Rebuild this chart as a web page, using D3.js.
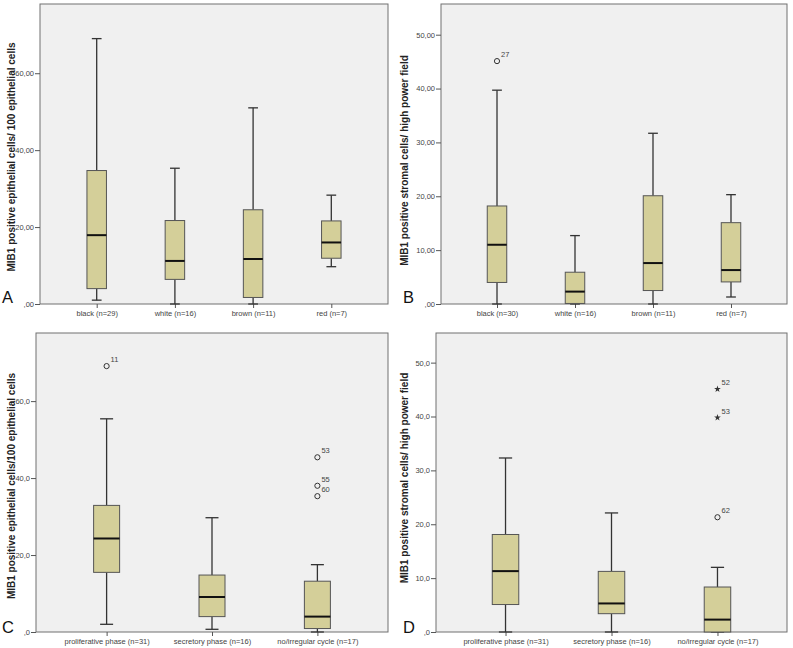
<!DOCTYPE html>
<html>
<head>
<meta charset="utf-8">
<script src="https://cdn.jsdelivr.net/npm/d3@7"></script>
<style>
  html, body { margin: 0; padding: 0; background: #ffffff; }
  svg { display: block; }
</style>
</head>
<body>
<svg id="chart" width="793" height="648"></svg>
<script>
// ---------- DATA ----------
const categoriesA = ["black (n=29)", "white (n=16)", "brown (n=11)", "red (n=7)"];
const categoriesB = ["black (n=30)", "white (n=16)", "brown (n=11)", "red (n=7)"];
const categoriesC = ["proliferative phase (n=31)", "secretory phase (n=16)", "no/irregular cycle (n=17)"];
const categoriesD = ["proliferative phase (n=31)", "secretory phase (n=16)", "no/irregular cycle (n=17)"];

// five-number summaries: [lower whisker, Q1, median, Q3, upper whisker]
const statsA = [[1.0, 4.0, 17.9, 34.7, 69.0], [0.0, 6.4, 11.2, 21.7, 35.3], [0.0, 1.7, 11.7, 24.5, 51.0], [9.7, 11.9, 16.0, 21.6, 28.3]];
const statsB = [[0.0, 4.0, 11.0, 18.2, 39.7], [0.0, 0.1, 2.3, 5.9, 12.7], [0.0, 2.5, 7.6, 20.1, 31.7], [1.3, 4.1, 6.3, 15.1, 20.3]];
const statsC = [[2.0, 15.5, 24.3, 32.9, 55.4], [0.7, 4.0, 9.1, 14.8, 29.7], [0.0, 0.9, 4.0, 13.2, 17.5]];
const statsD = [[0.0, 5.1, 11.3, 18.1, 32.3], [0.0, 3.4, 5.3, 11.25, 22.1], [0.0, 0.0, 2.3, 8.35, 12.0]];

// outliers: [category index, value, case label, kind]
const outliersA = [];
const outliersB = [[0, 45.1, "27", "circle"]];
const outliersC = [[0, 69.1, "11", "circle"], [2, 45.4, "53", "circle"], [2, 38.0, "55", "circle"], [2, 35.3, "60", "circle"]];
const outliersD = [[2, 45.1, "52", "star"], [2, 39.8, "53", "star"], [2, 21.3, "62", "circle"]];

const ticksA = [0, 20, 40, 60];
const tickLabelsA = [",00", "20,00", "40,00", "60,00"];
const ticksB = [0, 10, 20, 30, 40, 50];
const tickLabelsB = [",00", "10,00", "20,00", "30,00", "40,00", "50,00"];
const ticksC = [0, 20, 40, 60];
const tickLabelsC = [",0", "20,0", "40,0", "60,0"];
const ticksD = [0, 10, 20, 30, 40, 50];
const tickLabelsD = [",0", "10,0", "20,0", "30,0", "40,0", "50,0"];

const yMaxA = 78, yMaxB = 55.7, yMaxC = 77.7, yMaxD = 55.5;

const yTitleEpi1 = "MIB1 positive epithelial cells/ 100 epithelial cells";
const yTitleEpi2 = "MIB1 positive epithelial cells/100 epithelial cells";
const yTitleStroma = "MIB1 positive stromal cells/ high power field";

// ---------- LAYOUT ----------
const panels = [
  {letter: "A", cats: categoriesA, stats: statsA, outliers: outliersA, ticks: ticksA, tickLabels: tickLabelsA, yMax: yMaxA, title: yTitleEpi1,
   x0: 40, x1: 388, y0: 4, y1: 304, pad: 0.725, boxW: 19.5, titleX: 15, titleCy: 157, letterX: 2, letterDy: -1},
  {letter: "B", cats: categoriesB, stats: statsB, outliers: outliersB, ticks: ticksB, tickLabels: tickLabelsB, yMax: yMaxB, title: yTitleStroma,
   x0: 441, x1: 787, y0: 4, y1: 304, pad: 0.718, boxW: 19.5, titleX: 408, titleCy: 160.5, letterX: 403, letterDy: -1},
  {letter: "C", cats: categoriesC, stats: statsC, outliers: outliersC, ticks: ticksC, tickLabels: tickLabelsC, yMax: yMaxC, title: yTitleEpi2,
   x0: 36, x1: 388, y0: 333, y1: 632, pad: 0.67, boxW: 26, titleX: 15, titleCy: 486, letterX: 2, letterDy: 1},
  {letter: "D", cats: categoriesD, stats: statsD, outliers: outliersD, ticks: ticksD, tickLabels: tickLabelsD, yMax: yMaxD, title: yTitleStroma,
   x0: 436, x1: 787, y0: 333, y1: 632, pad: 0.656, boxW: 26.5, titleX: 408, titleCy: 478, letterX: 403, letterDy: 1}
];

const svg = d3.select("#chart");
const FONT = "'Liberation Sans', Arial, sans-serif";

panels.forEach(p => {
  const g = svg.append("g");
  const x = d3.scalePoint().domain(p.cats).range([p.x0, p.x1]).padding(p.pad);
  const y = d3.scaleLinear().domain([0, p.yMax]).range([p.y1, p.y0]);

  // plot background + frame
  g.append("rect")
    .attr("x", p.x0).attr("y", p.y0)
    .attr("width", p.x1 - p.x0).attr("height", p.y1 - p.y0)
    .attr("fill", "#f0f0f0").attr("stroke", "#707070").attr("stroke-width", 1);

  // y axis
  const yAxis = d3.axisLeft(y).tickValues(p.ticks)
    .tickFormat((d, i) => p.tickLabels[i]).tickSize(5).tickPadding(1);
  const ya = g.append("g").attr("transform", `translate(${p.x0},0)`).call(yAxis);
  ya.select(".domain").remove();
  ya.selectAll("line").attr("stroke", "#555");
  ya.selectAll("text").attr("font-family", FONT).attr("font-size", 7.5).attr("fill", "#444");

  // x axis
  const xAxis = d3.axisBottom(x).tickSize(4).tickPadding(3);
  const xa = g.append("g").attr("transform", `translate(0,${p.y1})`).call(xAxis);
  xa.select(".domain").remove();
  xa.selectAll("line").attr("stroke", "#555");
  xa.selectAll("text").attr("font-family", FONT).attr("font-size", 7.5).attr("fill", "#444");

  const box = g.selectAll(".bx").data(p.stats).enter().append("g").attr("class", "bx");
  const cx = (d, i) => x(p.cats[i]);
  const hw = p.boxW / 2, cw = p.boxW / 4;

  // whiskers
  box.append("line").attr("x1", cx).attr("x2", cx)
    .attr("y1", d => y(d[3])).attr("y2", d => y(d[4]))
    .attr("stroke", "#333").attr("stroke-width", 1.3);
  box.append("line").attr("x1", cx).attr("x2", cx)
    .attr("y1", d => y(d[0])).attr("y2", d => y(d[1]))
    .attr("stroke", "#333").attr("stroke-width", 1.3);
  // caps
  [0, 4].forEach(k => {
    box.append("line")
      .attr("x1", (d, i) => cx(d, i) - cw).attr("x2", (d, i) => cx(d, i) + cw)
      .attr("y1", d => y(d[k])).attr("y2", d => y(d[k]))
      .attr("stroke", "#333").attr("stroke-width", 1.3);
  });
  // box
  box.append("rect")
    .attr("x", (d, i) => cx(d, i) - hw).attr("width", p.boxW)
    .attr("y", d => y(d[3])).attr("height", d => y(d[1]) - y(d[3]))
    .attr("fill", "#d4cf99").attr("stroke", "#555").attr("stroke-width", 1);
  // median
  box.append("line")
    .attr("x1", (d, i) => cx(d, i) - hw).attr("x2", (d, i) => cx(d, i) + hw)
    .attr("y1", d => y(d[2])).attr("y2", d => y(d[2]))
    .attr("stroke", "#111").attr("stroke-width", 2);

  // outliers
  const out = g.selectAll(".out").data(p.outliers).enter().append("g").attr("class", "out")
    .attr("transform", d => `translate(${x(p.cats[d[0]])},${y(d[1])})`);
  out.filter(d => d[3] === "circle").append("circle").attr("r", 2.6)
    .attr("fill", "none").attr("stroke", "#333").attr("stroke-width", 1);
  out.filter(d => d[3] === "star").append("path")
    .attr("d", d3.symbol().type(d3.symbolStar).size(14))
    .attr("fill", "#333");
  out.append("text").attr("x", 4).attr("y", -4).text(d => d[2])
    .attr("font-family", FONT).attr("font-size", 7.5).attr("fill", "#444");

  // y title
  g.append("text")
    .attr("transform", `translate(${p.titleX},${p.titleCy}) rotate(-90)`)
    .attr("text-anchor", "middle")
    .attr("font-family", FONT).attr("font-size", 10).attr("font-weight", "bold").attr("fill", "#222")
    .text(p.title);

  // panel letter
  g.append("text").attr("x", p.letterX).attr("y", p.y1 + p.letterDy)
    .attr("font-family", FONT).attr("font-size", 16.5).attr("fill", "#111")
    .text(p.letter);
});
</script>
</body>
</html>
